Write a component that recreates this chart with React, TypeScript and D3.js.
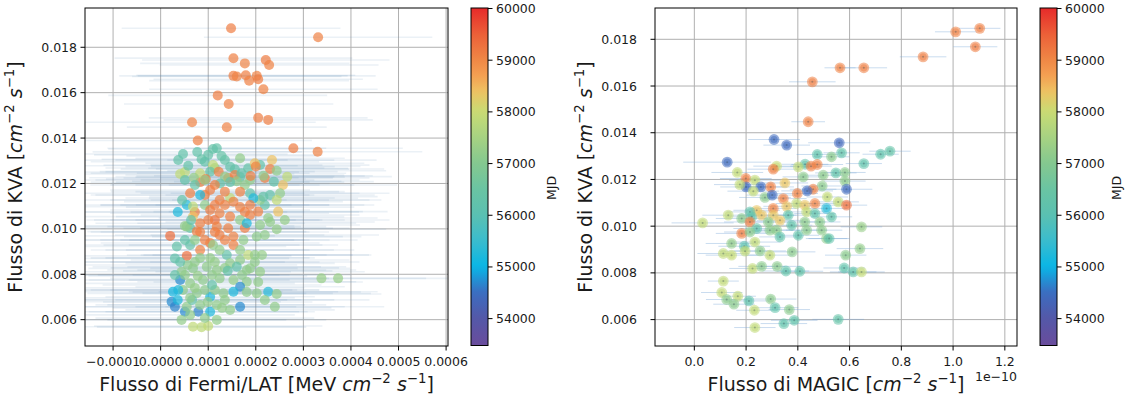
import React from "react";
import * as d3 from "d3";

// [flux Fermi/LAT (MeV cm^-2 s^-1), flux KVA, MJD, flux error]
const fermiPoints: [number, number, number, number][] = [
  [1.48e-4, 0.01884, 59120, 2.3e-4], [3.31e-4, 0.01844, 59080, 2.4e-4], [1.53e-4, 0.01752, 59100, 2.5e-4],
  [1.77e-4, 0.01729, 59060, 2.2e-4], [2.21e-4, 0.01744, 59150, 2.6e-4], [2.28e-4, 0.01722, 59090, 2.3e-4],
  [1.53e-4, 0.01674, 59110, 2.4e-4], [1.60e-4, 0.01671, 59070, 2.2e-4], [1.79e-4, 0.01677, 59130, 2.3e-4],
  [1.86e-4, 0.01653, 59100, 2.1e-4], [2.02e-4, 0.01674, 59080, 2.5e-4], [2.05e-4, 0.01659, 59120, 2.2e-4],
  [2.16e-4, 0.01615, 59090, 2.4e-4], [1.20e-4, 0.01588, 59140, 2.3e-4], [1.43e-4, 0.01550, 59100, 2.2e-4],
  [0.66e-4, 0.01470, 59060, 2.6e-4], [2.05e-4, 0.01489, 59110, 2.3e-4], [2.26e-4, 0.01480, 59130, 2.2e-4],
  [1.39e-4, 0.01448, 59080, 2.1e-4], [0.78e-4, 0.01389, 59100, 2.4e-4], [2.79e-4, 0.01355, 59120, 2.3e-4],
  [3.30e-4, 0.01340, 59090, 2.2e-4],
  [0.37e-4, 0.01303, 56300, 2.3e-4], [0.77e-4, 0.01339, 56250, 2.2e-4], [1.00e-4, 0.01326, 56300, 2.4e-4],
  [1.35e-4, 0.01303, 56350, 2.3e-4], [1.67e-4, 0.01311, 57200, 2.2e-4], [2.09e-4, 0.01281, 56300, 2.3e-4],
  [2.34e-4, 0.01303, 58400, 2.2e-4], [0.51e-4, 0.01250, 57900, 2.4e-4], [1.14e-4, 0.01268, 57200, 2.3e-4],
  [1.42e-4, 0.01224, 59100, 2.2e-4], [1.88e-4, 0.01215, 57200, 2.3e-4], [2.19e-4, 0.01224, 59100, 2.2e-4],
  [2.57e-4, 0.01193, 58400, 2.4e-4], [0.83e-4, 0.01206, 59100, 2.3e-4], [1.67e-4, 0.01228, 56300, 2.2e-4],
  [0.47e-4, 0.01330, 56250, 2.2e-4], [0.58e-4, 0.01278, 56300, 2.3e-4], [0.86e-4, 0.01307, 56350, 2.1e-4],
  [0.93e-4, 0.01296, 56280, 2.4e-4], [1.10e-4, 0.01352, 56320, 2.2e-4], [1.18e-4, 0.01355, 56300, 2.3e-4],
  [1.28e-4, 0.01321, 56380, 2.0e-4], [1.10e-4, 0.01281, 57900, 2.3e-4], [1.46e-4, 0.01274, 56300, 2.2e-4],
  [1.56e-4, 0.01263, 56250, 2.4e-4], [1.84e-4, 0.01267, 56350, 2.1e-4], [1.98e-4, 0.01289, 58400, 2.3e-4],
  [2.00e-4, 0.01275, 59050, 2.2e-4], [2.30e-4, 0.01264, 59100, 2.4e-4], [2.44e-4, 0.01256, 57200, 2.3e-4],
  [2.66e-4, 0.01230, 57900, 2.2e-4], [2.16e-4, 0.01234, 57150, 2.3e-4], [2.38e-4, 0.01208, 56300, 2.1e-4],
  [0.41e-4, 0.01242, 57900, 2.4e-4], [0.51e-4, 0.01215, 56300, 2.2e-4], [0.83e-4, 0.01245, 57950, 2.3e-4],
  [1.04e-4, 0.01252, 56350, 2.2e-4], [1.22e-4, 0.01252, 59100, 2.5e-4], [1.56e-4, 0.01237, 59080, 2.3e-4],
  [1.70e-4, 0.01245, 56300, 2.2e-4], [1.89e-4, 0.01233, 59120, 2.4e-4], [1.35e-4, 0.01230, 57200, 2.3e-4],
  [0.70e-4, 0.01225, 57250, 2.2e-4], [0.95e-4, 0.01220, 59100, 2.1e-4], [1.25e-4, 0.01200, 56300, 2.3e-4],
  [1.60e-4, 0.01210, 57200, 2.2e-4],
  [0.93e-4, 0.01215, 57200, 2.3e-4], [1.14e-4, 0.01193, 59100, 2.2e-4], [1.46e-4, 0.01206, 56300, 2.4e-4],
  [1.77e-4, 0.01193, 57200, 2.3e-4], [0.72e-4, 0.01193, 56350, 2.2e-4], [1.24e-4, 0.01127, 59100, 2.3e-4],
  [0.93e-4, 0.01105, 57200, 2.2e-4], [1.67e-4, 0.01096, 59100, 2.4e-4], [2.19e-4, 0.01105, 56300, 2.3e-4],
  [1.14e-4, 0.01039, 59300, 2.2e-4], [1.88e-4, 0.01061, 59100, 2.3e-4], [2.30e-4, 0.01030, 57200, 2.2e-4],
  [0.93e-4, 0.01149, 59100, 2.3e-4], [1.46e-4, 0.01136, 57900, 2.2e-4], [1.14e-4, 0.01105, 59120, 2.4e-4],
  [2.09e-4, 0.01127, 57200, 2.3e-4], [2.30e-4, 0.01149, 56300, 2.2e-4], [0.72e-4, 0.01074, 59100, 2.3e-4],
  [1.35e-4, 0.01105, 59080, 2.2e-4], [1.77e-4, 0.01074, 59100, 2.4e-4], [2.26e-4, 0.01048, 57200, 2.3e-4],
  [2.61e-4, 0.01039, 57250, 2.2e-4], [0.83e-4, 0.00986, 59100, 2.3e-4], [1.77e-4, 0.01004, 59120, 2.2e-4],
  [2.19e-4, 0.00973, 57200, 2.4e-4], [1.04e-4, 0.00938, 59100, 2.3e-4], [0.62e-4, 0.01004, 56300, 2.2e-4],
  [0.62e-4, 0.01157, 59100, 2.4e-4], [0.83e-4, 0.01149, 55200, 2.3e-4], [0.55e-4, 0.01105, 55250, 2.2e-4],
  [0.68e-4, 0.01098, 57900, 2.3e-4], [1.04e-4, 0.01171, 59120, 2.1e-4], [1.35e-4, 0.01164, 59080, 2.4e-4],
  [1.67e-4, 0.01164, 59100, 2.2e-4], [1.88e-4, 0.01157, 56300, 2.3e-4], [1.95e-4, 0.01135, 55200, 2.2e-4],
  [2.16e-4, 0.01142, 56300, 2.4e-4], [2.51e-4, 0.01157, 57200, 2.3e-4], [2.44e-4, 0.01127, 57900, 2.2e-4],
  [1.53e-4, 0.01120, 59100, 2.3e-4], [1.88e-4, 0.01105, 59150, 2.4e-4], [2.05e-4, 0.01076, 59100, 2.2e-4],
  [2.47e-4, 0.01076, 58400, 2.3e-4], [1.04e-4, 0.01083, 59120, 2.1e-4], [1.24e-4, 0.01069, 59080, 2.3e-4],
  [1.46e-4, 0.01054, 59100, 2.4e-4], [1.67e-4, 0.01039, 57200, 2.2e-4], [0.68e-4, 0.01054, 58400, 2.3e-4],
  [0.83e-4, 0.01025, 59100, 2.2e-4], [1.00e-4, 0.01039, 59130, 2.4e-4], [1.18e-4, 0.01010, 59090, 2.3e-4],
  [1.42e-4, 0.01003, 59100, 2.2e-4], [1.81e-4, 0.01025, 55200, 2.3e-4], [2.09e-4, 0.01017, 57200, 2.1e-4],
  [2.44e-4, 0.00998, 57250, 2.3e-4], [0.20e-4, 0.00969, 59350, 2.2e-4], [0.55e-4, 0.01010, 57200, 2.4e-4],
  [0.76e-4, 0.00988, 59100, 2.3e-4], [1.24e-4, 0.00973, 59120, 2.2e-4], [1.53e-4, 0.00966, 59080, 2.3e-4],
  [1.74e-4, 0.00951, 57200, 2.4e-4], [2.02e-4, 0.00966, 57150, 2.2e-4],
  [0.34e-4, 0.00922, 56300, 2.3e-4], [0.55e-4, 0.00881, 59350, 2.2e-4], [0.30e-4, 0.00870, 56250, 2.4e-4],
  [0.83e-4, 0.00907, 59100, 2.3e-4], [1.53e-4, 0.00929, 59100, 2.2e-4], [1.10e-4, 0.00929, 57200, 2.3e-4],
  [1.39e-4, 0.00885, 56300, 2.1e-4], [1.67e-4, 0.00863, 57200, 2.3e-4], [1.84e-4, 0.00885, 57900, 2.2e-4],
  [1.98e-4, 0.00885, 57200, 2.4e-4], [1.81e-4, 0.00819, 57200, 2.3e-4], [2.09e-4, 0.00811, 57250, 2.2e-4],
  [0.44e-4, 0.00811, 57200, 2.3e-4], [0.68e-4, 0.00826, 57150, 2.2e-4], [0.97e-4, 0.00833, 57200, 2.4e-4],
  [1.18e-4, 0.00819, 57250, 2.3e-4], [1.46e-4, 0.00848, 57200, 2.2e-4], [1.60e-4, 0.00833, 56300, 2.3e-4],
  [1.88e-4, 0.00826, 57200, 2.1e-4], [0.41e-4, 0.00775, 54700, 2.3e-4], [0.62e-4, 0.00760, 57200, 2.2e-4],
  [0.89e-4, 0.00775, 57150, 2.4e-4], [1.24e-4, 0.00782, 57200, 2.3e-4], [1.53e-4, 0.00775, 57250, 2.2e-4],
  [1.81e-4, 0.00767, 57200, 2.3e-4], [1.67e-4, 0.00745, 54700, 2.2e-4], [0.26e-4, 0.00723, 55100, 2.3e-4],
  [0.47e-4, 0.00731, 57200, 2.4e-4], [0.76e-4, 0.00716, 57150, 2.3e-4], [1.04e-4, 0.00701, 55200, 2.2e-4],
  [1.32e-4, 0.00716, 57200, 2.3e-4], [1.53e-4, 0.00723, 55200, 2.2e-4], [2.02e-4, 0.00716, 57200, 2.4e-4],
  [2.26e-4, 0.00723, 55300, 2.3e-4], [2.44e-4, 0.00713, 57200, 2.2e-4], [0.23e-4, 0.00679, 54700, 2.3e-4],
  [0.30e-4, 0.00657, 54650, 2.2e-4], [0.51e-4, 0.00635, 54700, 2.4e-4], [0.79e-4, 0.00635, 54650, 2.3e-4],
  [1.04e-4, 0.00635, 55200, 2.2e-4], [1.18e-4, 0.00665, 57200, 2.3e-4], [0.83e-4, 0.00665, 57150, 2.2e-4],
  [0.55e-4, 0.00657, 57200, 2.3e-4], [0.44e-4, 0.00599, 57200, 2.2e-4], [0.68e-4, 0.00569, 57900, 2.3e-4],
  [0.86e-4, 0.00567, 57850, 2.2e-4], [1.00e-4, 0.00572, 57900, 2.4e-4], [1.18e-4, 0.00599, 57200, 2.3e-4],
  [1.67e-4, 0.00657, 54700, 2.2e-4], [2.40e-4, 0.00657, 57200, 2.3e-4], [3.38e-4, 0.00782, 57300, 2.2e-4],
  [3.73e-4, 0.00782, 57300, 2.3e-4],
  [0.83e-4, 0.00872, 57200, 2.3e-4], [1.14e-4, 0.00854, 57250, 2.2e-4], [1.35e-4, 0.00828, 57200, 2.4e-4],
  [0.57e-4, 0.00841, 57150, 2.3e-4], [1.98e-4, 0.00854, 57200, 2.2e-4], [2.13e-4, 0.00885, 57250, 2.3e-4],
  [0.30e-4, 0.00797, 56300, 2.2e-4], [1.08e-4, 0.00797, 57200, 2.4e-4], [1.71e-4, 0.00797, 57150, 2.3e-4],
  [2.05e-4, 0.00766, 57200, 2.2e-4], [0.72e-4, 0.00740, 57250, 2.3e-4], [1.14e-4, 0.00731, 57200, 2.2e-4],
  [1.81e-4, 0.00722, 57150, 2.4e-4], [0.66e-4, 0.00687, 56300, 2.3e-4], [0.99e-4, 0.00678, 57200, 2.2e-4],
  [1.29e-4, 0.00652, 57250, 2.3e-4], [0.62e-4, 0.00621, 57200, 2.2e-4], [0.93e-4, 0.00607, 57150, 2.3e-4],
  [2.19e-4, 0.00687, 57200, 2.2e-4], [0.37e-4, 0.00731, 55200, 2.4e-4],
  [0.72e-4, 0.00854, 57200, 2.3e-4], [1.04e-4, 0.00872, 57250, 2.2e-4], [1.24e-4, 0.00907, 57200, 2.4e-4],
  [0.62e-4, 0.00929, 56300, 2.3e-4], [0.93e-4, 0.00951, 59100, 2.2e-4], [0.51e-4, 0.00951, 56300, 2.3e-4],
  [1.35e-4, 0.00951, 59100, 2.2e-4], [1.14e-4, 0.00986, 59120, 2.4e-4], [0.72e-4, 0.00951, 57200, 2.3e-4],
  [0.41e-4, 0.00854, 56300, 2.2e-4], [0.36e-4, 0.00687, 55200, 2.3e-4], [0.62e-4, 0.00696, 57200, 2.2e-4],
  [0.93e-4, 0.00731, 57150, 2.4e-4], [1.35e-4, 0.00687, 57200, 2.3e-4], [1.46e-4, 0.00643, 57200, 2.2e-4],
  [1.08e-4, 0.00753, 56300, 2.3e-4], [0.51e-4, 0.00797, 57200, 2.2e-4], [0.78e-4, 0.00793, 57250, 2.3e-4],
  [1.41e-4, 0.00815, 56300, 2.2e-4], [1.67e-4, 0.00907, 57200, 2.4e-4], [0.51e-4, 0.01013, 57200, 2.3e-4],
  [0.64e-4, 0.01039, 56300, 2.2e-4], [0.36e-4, 0.01074, 55200, 2.3e-4], [0.45e-4, 0.01127, 56300, 2.2e-4],
];

// [flux MAGIC (cm^-2 s^-1), flux KVA, MJD, flux error]
const magicPoints: [number, number, number, number][] = [
  [1.103e-10, 0.01847, 59100, 0.08e-10], [1.010e-10, 0.01832, 59080, 0.08e-10], [1.086e-10, 0.01768, 59120, 0.085e-10],
  [0.884e-10, 0.01725, 59100, 0.09e-10], [0.563e-10, 0.01678, 59090, 0.06e-10], [0.655e-10, 0.01678, 59110, 0.09e-10],
  [0.456e-10, 0.01618, 59100, 0.09e-10], [0.440e-10, 0.01447, 59080, 0.065e-10], [0.308e-10, 0.01371, 54450, 0.1e-10],
  [0.357e-10, 0.01347, 54450, 0.09e-10], [0.560e-10, 0.01357, 54400, 0.12e-10], [0.127e-10, 0.01274, 54450, 0.17e-10],
  [0.475e-10, 0.01307, 56200, 0.08e-10], [0.530e-10, 0.01297, 57100, 0.07e-10], [0.569e-10, 0.01314, 56250, 0.07e-10],
  [0.720e-10, 0.01308, 56200, 0.07e-10], [0.756e-10, 0.01321, 56300, 0.08e-10], [0.655e-10, 0.01268, 56200, 0.07e-10],
  [0.428e-10, 0.01265, 56250, 0.09e-10], [0.402e-10, 0.01254, 57900, 0.08e-10], [0.318e-10, 0.01257, 57950, 0.09e-10],
  [0.305e-10, 0.01244, 59100, 0.1e-10], [0.475e-10, 0.01264, 59080, 0.1e-10], [0.451e-10, 0.01257, 59100, 0.08e-10],
  [0.166e-10, 0.01230, 57900, 0.1e-10], [0.199e-10, 0.01204, 59100, 0.1e-10], [0.234e-10, 0.01197, 57900, 0.1e-10],
  [0.421e-10, 0.01211, 57100, 0.08e-10], [0.498e-10, 0.01218, 57150, 0.08e-10], [0.547e-10, 0.01228, 56250, 0.08e-10],
  [0.582e-10, 0.01230, 57100, 0.08e-10], [0.582e-10, 0.01193, 57150, 0.08e-10], [0.588e-10, 0.01158, 54450, 0.1e-10],
  [0.494e-10, 0.01172, 57100, 0.08e-10], [0.459e-10, 0.01158, 59100, 0.09e-10], [0.436e-10, 0.01151, 54450, 0.1e-10],
  [0.398e-10, 0.01140, 59050, 0.08e-10], [0.350e-10, 0.01185, 58350, 0.09e-10], [0.200e-10, 0.01168, 54450, 0.1e-10],
  [0.257e-10, 0.01168, 54450, 0.1e-10], [0.295e-10, 0.01168, 59100, 0.09e-10], [0.176e-10, 0.01178, 57900, 0.1e-10],
  [0.228e-10, 0.01150, 57900, 0.1e-10], [0.273e-10, 0.01123, 57100, 0.1e-10], [0.301e-10, 0.01133, 54450, 0.1e-10],
  [0.514e-10, 0.01125, 57900, 0.08e-10], [0.344e-10, 0.01118, 59050, 0.09e-10], [0.556e-10, 0.01104, 57900, 0.08e-10],
  [0.588e-10, 0.01090, 59300, 0.08e-10], [0.241e-10, 0.01068, 58350, 0.09e-10], [0.215e-10, 0.01061, 56200, 0.09e-10],
  [0.222e-10, 0.01040, 56250, 0.1e-10], [0.260e-10, 0.01047, 58350, 0.09e-10], [0.305e-10, 0.01076, 59050, 0.09e-10],
  [0.305e-10, 0.01047, 58300, 0.09e-10], [0.357e-10, 0.01085, 58350, 0.09e-10], [0.363e-10, 0.01047, 56200, 0.08e-10],
  [0.331e-10, 0.01025, 58350, 0.09e-10], [0.286e-10, 0.01018, 57100, 0.09e-10], [0.395e-10, 0.01097, 57900, 0.08e-10],
  [0.427e-10, 0.01090, 58350, 0.08e-10], [0.466e-10, 0.01097, 59050, 0.08e-10], [0.434e-10, 0.01061, 57900, 0.08e-10],
  [0.466e-10, 0.01054, 56200, 0.08e-10], [0.511e-10, 0.01076, 55300, 0.08e-10], [0.530e-10, 0.01040, 56250, 0.08e-10],
  [0.485e-10, 0.01018, 57100, 0.08e-10], [0.427e-10, 0.01018, 57150, 0.08e-10], [0.131e-10, 0.01047, 57900, 0.1e-10],
  [0.183e-10, 0.01033, 57100, 0.1e-10], [0.215e-10, 0.01018, 59100, 0.1e-10], [0.032e-10, 0.01014, 57900, 0.12e-10],
  [0.241e-10, 0.00990, 56200, 0.09e-10], [0.292e-10, 0.00983, 57100, 0.09e-10], [0.318e-10, 0.00983, 57150, 0.09e-10],
  [0.331e-10, 0.00954, 56200, 0.08e-10], [0.376e-10, 0.01004, 56250, 0.08e-10], [0.402e-10, 0.00961, 56200, 0.08e-10],
  [0.434e-10, 0.00983, 57100, 0.08e-10], [0.492e-10, 0.00983, 57150, 0.08e-10], [0.511e-10, 0.00947, 57100, 0.08e-10],
  [0.646e-10, 0.00997, 57300, 0.08e-10], [0.183e-10, 0.00969, 59100, 0.1e-10], [0.215e-10, 0.00975, 57100, 0.1e-10],
  [0.144e-10, 0.00926, 57200, 0.1e-10], [0.234e-10, 0.00932, 57900, 0.1e-10], [0.112e-10, 0.00883, 57900, 0.1e-10],
  [0.144e-10, 0.00876, 57950, 0.1e-10], [0.193e-10, 0.00914, 56100, 0.1e-10], [0.196e-10, 0.00893, 57900, 0.1e-10],
  [0.254e-10, 0.00894, 57100, 0.1e-10], [0.292e-10, 0.00876, 57900, 0.09e-10], [0.225e-10, 0.00819, 57900, 0.09e-10],
  [0.260e-10, 0.00828, 57100, 0.09e-10], [0.320e-10, 0.00828, 57100, 0.09e-10], [0.354e-10, 0.00808, 56200, 0.09e-10],
  [0.378e-10, 0.00890, 57100, 0.09e-10], [0.408e-10, 0.00807, 56250, 0.09e-10], [0.521e-10, 0.00947, 56200, 0.08e-10],
  [0.585e-10, 0.00876, 57100, 0.08e-10], [0.640e-10, 0.00904, 57200, 0.09e-10], [0.579e-10, 0.00821, 56200, 0.08e-10],
  [0.614e-10, 0.00804, 56250, 0.09e-10], [0.646e-10, 0.00804, 57900, 0.09e-10], [0.112e-10, 0.00765, 57900, 0.06e-10],
  [0.106e-10, 0.00716, 57900, 0.08e-10], [0.125e-10, 0.00686, 57100, 0.08e-10], [0.168e-10, 0.00700, 57900, 0.07e-10],
  [0.153e-10, 0.00666, 57100, 0.08e-10], [0.211e-10, 0.00680, 56200, 0.09e-10], [0.232e-10, 0.00640, 57900, 0.07e-10],
  [0.295e-10, 0.00688, 57100, 0.1e-10], [0.312e-10, 0.00651, 56200, 0.09e-10], [0.367e-10, 0.00643, 57100, 0.08e-10],
  [0.234e-10, 0.00566, 57900, 0.08e-10], [0.346e-10, 0.00583, 56200, 0.09e-10], [0.386e-10, 0.00597, 56250, 0.09e-10],
  [0.556e-10, 0.00601, 56300, 0.1e-10],
];

const fermiXTicks = [-0.0001, 0, 0.0001, 0.0002, 0.0003, 0.0004, 0.0005, 0.0006];
const magicXTicks = [0, 0.2e-10, 0.4e-10, 0.6e-10, 0.8e-10, 1.0e-10, 1.2e-10];
const kvaYTicks = [0.006, 0.008, 0.01, 0.012, 0.014, 0.016, 0.018];
const mjdTicks = [54000, 55000, 56000, 57000, 58000, 59000, 60000];
const mjdRange = [53480, 60010];
const cmapValues = [53480, 54000, 54500, 55000, 55500, 56000, 56500, 57000, 57500, 58000, 58400, 58700, 59000, 59500, 60010];
const cmapColors = ["#6a4c9c", "#5458a8", "#3c6cc0", "#08b6e6", "#3abcce", "#5ac0b2", "#6ac4a2", "#84c890", "#a6d282", "#c8dc74", "#eec262", "#f4a052", "#f08846", "#ec6038", "#e62a2a"];

const FONT = "DejaVu Sans";
const cmap = d3.scaleLinear<string>().domain(cmapValues).range(cmapColors).interpolate(d3.interpolateRgb).clamp(true);

type Part = { t: string; i?: boolean; sup?: boolean };
function MathText({ parts, fs, ...rest }: { parts: Part[]; fs: number; [k: string]: any }) {
  const lift = fs * 0.42;
  const out: React.ReactNode[] = [];
  let raised = false;
  parts.forEach((p, k) => {
    let dy = 0;
    if (p.sup && !raised) { dy = -lift; raised = true; }
    else if (!p.sup && raised) { dy = lift; raised = false; }
    out.push(
      <tspan key={k} dy={dy || undefined} fontStyle={p.i ? "italic" : undefined} fontSize={p.sup ? fs * 0.7 : fs}>
        {p.t}
      </tspan>
    );
  });
  return <text fontFamily={FONT} fontSize={fs} fill="#1a1a1a" {...rest} style={{ whiteSpace: "pre" }}>{out}</text>;
}

const unitParts: Part[] = [{ t: "cm", i: true }, { t: "−2", sup: true }, { t: " " }, { t: "s", i: true }, { t: "−1", sup: true }];

type PanelProps = {
  data: [number, number, number, number][];
  x0: number; x1: number; y0: number; y1: number;
  xDomain: [number, number]; yDomain: [number, number];
  xTicks: number[]; xFmt: (v: number) => string;
  yLabelRight: number; yTitleX: number;
  xTitle: Part[]; offsetText?: string; kind: "fermi" | "magic"; clipId: string;
};

function Panel(p: PanelProps) {
  const x = d3.scaleLinear().domain(p.xDomain).range([p.x0, p.x1]);
  const y = d3.scaleLinear().domain(p.yDomain).range([p.y1, p.y0]);
  const yFmt = d3.format(".3f");
  const fermi = p.kind === "fermi";
  return (
    <g>
      <defs>
        <clipPath id={p.clipId}><rect x={p.x0} y={p.y0} width={p.x1 - p.x0} height={p.y1 - p.y0} /></clipPath>
      </defs>
      <g stroke="#b0b0b0" strokeWidth={1}>
        {p.xTicks.map((t, i) => <line key={"gx" + i} x1={x(t)} x2={x(t)} y1={p.y0} y2={p.y1} />)}
        {kvaYTicks.map((t, i) => <line key={"gy" + i} x1={p.x0} x2={p.x1} y1={y(t)} y2={y(t)} />)}
      </g>
      <g clipPath={`url(#${p.clipId})`}>
        <g stroke={fermi ? "#5a88b8" : "#7aa8d8"} strokeOpacity={fermi ? 0.12 : 0.4} strokeWidth={fermi ? 1.6 : 1}>
          {p.data.map((d, i) => <line key={"e" + i} x1={x(d[0] - d[3])} x2={x(d[0] + d[3])} y1={y(d[1])} y2={y(d[1])} />)}
        </g>
        {p.data.map((d, i) =>
          fermi ? (
            <circle key={"p" + i} cx={x(d[0])} cy={y(d[1])} r={5} fill={cmap(d[2])} fillOpacity={0.7} />
          ) : (
            <g key={"p" + i}>
              <circle cx={x(d[0])} cy={y(d[1])} r={5.4} fill={cmap(d[2])} fillOpacity={0.55} />
              <circle cx={x(d[0])} cy={y(d[1])} r={3.6} fill={cmap(d[2])} fillOpacity={0.5} />
              <circle cx={x(d[0])} cy={y(d[1])} r={1} fill="#3a4a50" fillOpacity={0.35} />
            </g>
          )
        )}
      </g>
      <rect x={p.x0} y={p.y0} width={p.x1 - p.x0} height={p.y1 - p.y0} fill="none" stroke="#000" strokeWidth={1} />
      <g fontFamily={FONT} fontSize={12.5} fill="#1a1a1a">
        {p.xTicks.map((t, i) => (
          <g key={"tx" + i}>
            <line x1={x(t)} x2={x(t)} y1={p.y1} y2={p.y1 + 4.5} stroke="#000" />
            <text x={x(t)} y={p.y1 + 20} textAnchor="middle">{p.xFmt(t)}</text>
          </g>
        ))}
        {kvaYTicks.map((t, i) => (
          <g key={"ty" + i}>
            <line x1={p.x0 - 4.5} x2={p.x0} y1={y(t)} y2={y(t)} stroke="#000" />
            <text x={p.yLabelRight} y={y(t)} dy="0.36em" textAnchor="end">{yFmt(t)}</text>
          </g>
        ))}
        {p.offsetText && <text x={p.x1} y={381} textAnchor="end">{p.offsetText}</text>}
      </g>
      <MathText parts={p.xTitle} fs={19} x={(p.x0 + p.x1) / 2} y={391} textAnchor="middle" />
      <MathText
        parts={[{ t: "Flusso di KVA [" }, ...unitParts, { t: "]" }]}
        fs={19}
        textAnchor="middle"
        transform={`translate(${p.yTitleX},${(p.y0 + p.y1) / 2}) rotate(-90)`}
      />
    </g>
  );
}

function Colorbar({ x0, id, labelX }: { x0: number; id: string; labelX: number }) {
  const top = 8, bottom = 345.5, w = 17;
  const c = d3.scaleLinear().domain(mjdRange).range([bottom, top]);
  const samples = d3.range(0, 1.0001, 0.02);
  return (
    <g>
      <defs>
        <linearGradient id={id} x1="0" y1="1" x2="0" y2="0">
          {samples.map((s, i) => (
            <stop key={i} offset={s} stopColor={cmap(mjdRange[0] + s * (mjdRange[1] - mjdRange[0]))} />
          ))}
        </linearGradient>
      </defs>
      <rect x={x0} y={top} width={w} height={bottom - top} fill={`url(#${id})`} stroke="#000" strokeWidth={1} />
      <g fontFamily={FONT} fontSize={12.5} fill="#1a1a1a">
        {mjdTicks.map((t) => (
          <g key={t}>
            <line x1={x0 + w} x2={x0 + w + 4.5} y1={c(t)} y2={c(t)} stroke="#000" />
            <text x={x0 + w + 8} y={c(t)} dy="0.36em">{t}</text>
          </g>
        ))}
        <text transform={`translate(${labelX},188) rotate(-90)`} textAnchor="middle" dy="0.36em">MJD</text>
      </g>
    </g>
  );
}

export default function App() {
  const fmtFermi = d3.format(".4f");
  const fmtMagic = (v: number) => d3.format(".1f")(v / 1e-10);
  return (
    <svg width={1127} height={403} style={{ display: "block", position: "absolute", left: 0, top: 0, background: "#fff" }}>
      <Panel
        data={fermiPoints}
        x0={85} x1={448} y0={8} y1={346}
        xDomain={[-1.59e-4, 6.04e-4]} yDomain={[0.00484, 0.01973]}
        xTicks={fermiXTicks} xFmt={(v) => fmtFermi(v)}
        yLabelRight={77} yTitleX={22}
        xTitle={[{ t: "Flusso di Fermi/LAT [MeV " }, ...unitParts, { t: "]" }]}
        kind="fermi" clipId="clipL"
      />
      <Colorbar x0={471} id="cbL" labelX={551} />
      <Panel
        data={magicPoints}
        x0={655} x1={1017} y0={8} y1={346}
        xDomain={[-0.152e-10, 1.247e-10]} yDomain={[0.00487, 0.01934]}
        xTicks={magicXTicks} xFmt={fmtMagic}
        yLabelRight={637} yTitleX={592}
        xTitle={[{ t: "Flusso di MAGIC [" }, ...unitParts, { t: "]" }]}
        offsetText="1e−10"
        kind="magic" clipId="clipR"
      />
      <Colorbar x0={1040} id="cbR" labelX={1116} />
    </svg>
  );
}
